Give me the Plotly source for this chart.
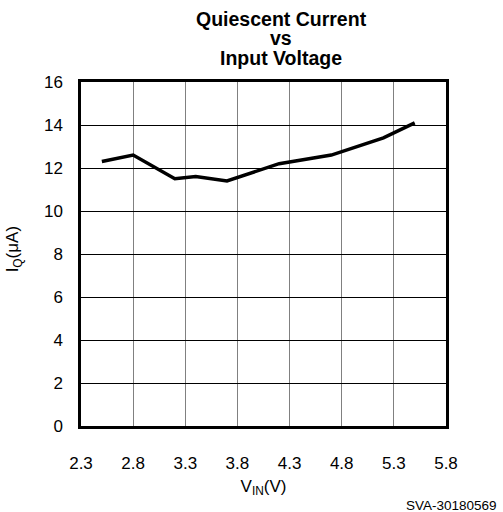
import plotly.graph_objects as go

vin = [2.5, 2.8, 3.2, 3.4, 3.7, 4.2, 4.7, 5.2, 5.5]
iq = [12.3, 12.6, 11.5, 11.6, 11.4, 12.2, 12.6, 13.4, 14.1]
x_ticks = [2.3, 2.8, 3.3, 3.8, 4.3, 4.8, 5.3, 5.8]
y_ticks = [0, 2, 4, 6, 8, 10, 12, 14, 16]
title_lines = ["Quiescent Current", "vs", "Input Voltage"]
title_y = [1.183, 1.127, 1.070]

FONT = "Liberation Sans, Arial, sans-serif"

fig = go.Figure()
fig.add_trace(go.Scatter(x=vin, y=iq, mode="lines",
                         line=dict(color="black", width=3.5), showlegend=False))

annotations = [dict(text=f"<b>{t}</b>", xref="paper", yref="paper", x=0.549, y=yy,
                    xanchor="center", yanchor="middle", showarrow=False,
                    font=dict(size=19.5, family=FONT, color="black"))
               for t, yy in zip(title_lines, title_y)]
annotations.append(dict(text="I<sub>Q</sub>(μA)", xref="paper", yref="paper",
                        x=-0.184, y=0.513, xanchor="center", yanchor="middle",
                        textangle=-90, showarrow=False,
                        font=dict(size=17, family=FONT, color="black")))
annotations.append(dict(text="SVA-30180569", xref="paper", yref="paper",
                        x=1.145, y=-0.2297, xanchor="right", yanchor="middle",
                        showarrow=False, font=dict(size=13.5, family=FONT, color="black")))

fig.update_layout(
    width=503, height=512,
    margin=dict(l=81, r=57, t=82, b=86),
    paper_bgcolor="white", plot_bgcolor="white",
    font=dict(family=FONT, color="black", size=17),
    xaxis=dict(range=[2.3, 5.8], tickvals=x_ticks, ticktext=[f"{v:.1f}" for v in x_ticks],
               showgrid=True, gridcolor="#808080", gridwidth=1,
               showline=True, linecolor="black", linewidth=2.5, mirror=True,
               ticks="", ticklabelstandoff=20, zeroline=False,
               tickfont=dict(size=17),
               title=dict(text="V<sub>IN</sub>(V)", standoff=8, font=dict(size=17))),
    yaxis=dict(range=[0, 16], tickvals=y_ticks,
               showgrid=True, gridcolor="black", gridwidth=1,
               showline=True, linecolor="black", linewidth=2.5, mirror=True,
               ticks="", ticklabelstandoff=12, zeroline=False,
               tickfont=dict(size=17)),
    annotations=annotations,
)

fig.write_html("out.html", config={"displayModeBar": False},
               post_script="document.body.style.margin='0px';")
